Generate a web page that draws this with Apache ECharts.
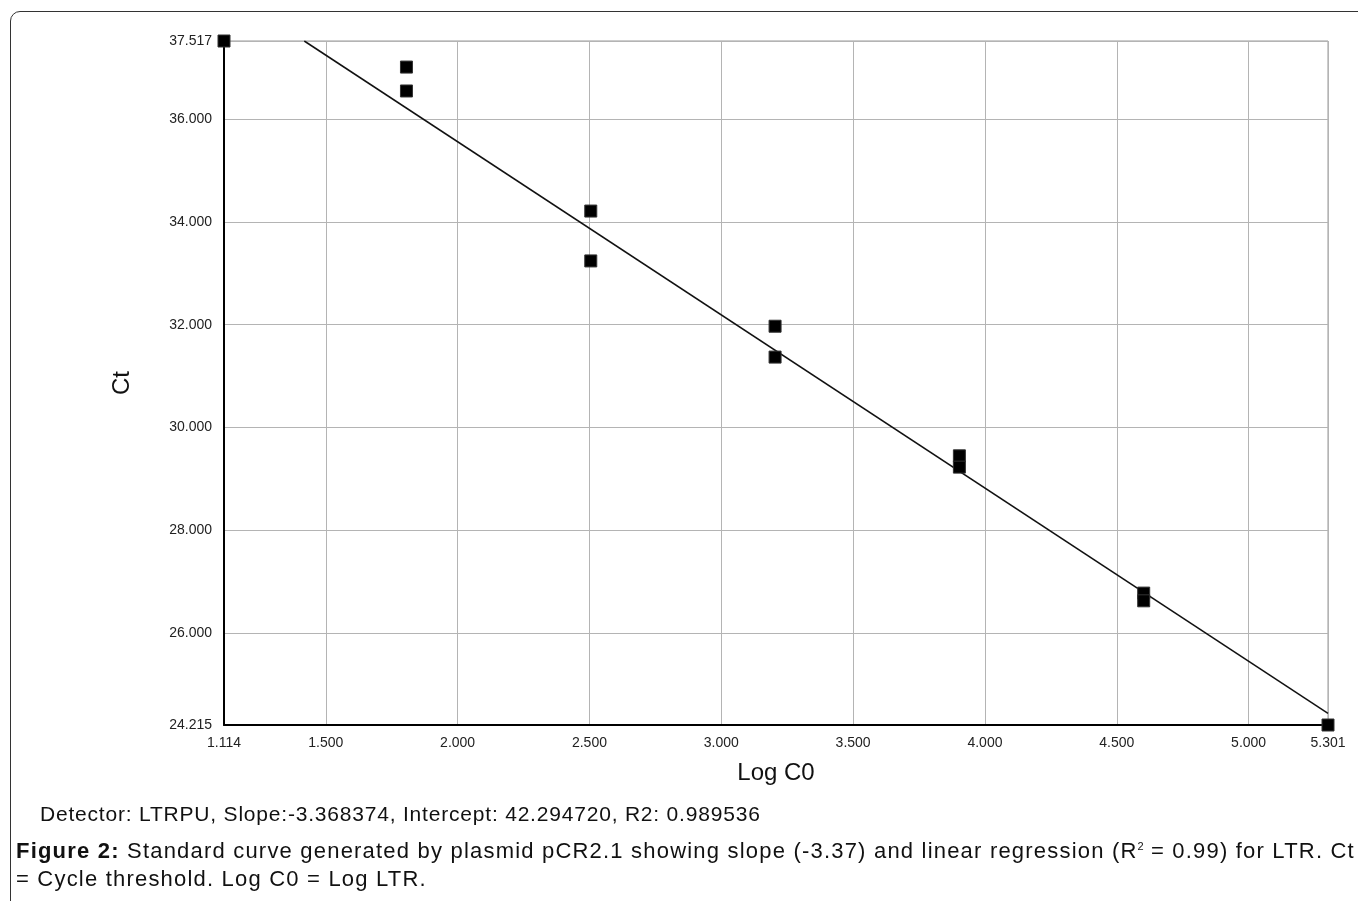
<!DOCTYPE html>
<html>
<head>
<meta charset="utf-8">
<script src="https://cdn.jsdelivr.net/npm/echarts@6/dist/echarts.min.js"></script>
<style>
  html, body { margin: 0; padding: 0; background: #fff; }
  body { width: 1358px; height: 901px; position: relative; overflow: hidden; font-family: "Liberation Sans", Arial, sans-serif; }
  .frame { position: absolute; left: 10px; top: 11px; width: 1400px; height: 950px; border: 1px solid #333; border-radius: 10px; }
  #chart { position: absolute; left: 0; top: 0; width: 1358px; height: 901px; }
  .txt { position: absolute; color: #111; white-space: nowrap; }
  .detector { left: 40px; top: 802px; font-size: 21px; letter-spacing: 0.8px; }
  .caption { left: 16px; top: 837px; font-size: 22px; line-height: 28px; letter-spacing: 1.2px; }
  sup { font-size: 11px; vertical-align: 8px; line-height: 0; letter-spacing: 0; }
</style>
</head>
<body>
<div class="frame"></div>
<div id="chart"></div>
<div class="txt detector">Detector: LTRPU, Slope:-3.368374, Intercept: 42.294720, R2: 0.989536</div>
<div class="txt caption"><b>Figure 2:</b> Standard curve generated by plasmid pCR2.1 showing slope (-3.37) and linear regression (R<sup>2</sup> = 0.99) for LTR. Ct<br>= Cycle threshold. Log C0 = Log LTR.</div>
<script>
// measured standards: Log C0 vs Ct
const logC0 = [1.114, 1.806, 1.806, 2.505, 2.505, 3.204, 3.204, 3.903, 3.903, 4.602, 4.602, 5.301];
const ctValues = [37.517, 37.01, 36.545, 34.21, 33.24, 31.97, 31.37, 29.45, 29.23, 26.78, 26.63, 24.215];

// regression from the detector line
const slope = -3.368374;
const intercept = 42.294720;

const xMin = 1.114, xMax = 5.301;
const yMin = 24.215, yMax = 37.517;

// line clipped to the plot box
const xStart = (yMax - intercept) / slope;
const fitLine = [[xStart, yMax], [xMax, intercept + slope * xMax]];

const chart = echarts.init(document.getElementById('chart'));
const fmt = v => v.toFixed(3);

chart.setOption({
  animation: false,
  textStyle: { fontFamily: '"Liberation Sans", Arial, sans-serif' },
  grid: {
    left: 224, right: 30, top: 41, bottom: 176,
    show: true, borderColor: '#999', borderWidth: 1
  },
  xAxis: {
    type: 'value',
    min: xMin, max: xMax,
    splitNumber: 8,
    name: 'Log C0',
    nameLocation: 'middle',
    nameGap: 36,
    nameTextStyle: { fontSize: 24, color: '#111' },
    axisLine: { lineStyle: { color: '#000', width: 2 } },
    axisTick: { show: false },
    axisLabel: { formatter: fmt, color: '#222', fontSize: 14, margin: 11, showMinLabel: true, showMaxLabel: true },
    splitLine: { lineStyle: { color: '#b4b4b4', width: 1 } }
  },
  yAxis: {
    type: 'value',
    min: yMin, max: yMax,
    splitNumber: 7,
    name: 'Ct',
    nameLocation: 'middle',
    nameGap: 90,
    nameTextStyle: { fontSize: 24, color: '#111' },
    axisLine: { show: true, lineStyle: { color: '#000', width: 2 } },
    axisTick: { show: false },
    axisLabel: { formatter: fmt, color: '#222', fontSize: 14, margin: 12, showMinLabel: true, showMaxLabel: true },
    splitLine: { lineStyle: { color: '#b4b4b4', width: 1 } }
  },
  series: [
    {
      type: 'line',
      data: fitLine,
      symbol: 'none',
      lineStyle: { color: '#111', width: 1.5 },
      z: 3
    },
    {
      type: 'scatter',
      data: logC0.map((x, i) => [x, ctValues[i]]),
      symbol: 'rect',
      symbolSize: 12,
      clip: false,
      itemStyle: { color: '#000', opacity: 1, borderColor: '#333', borderWidth: 1 },
      z: 4
    }
  ]
});
</script>
</body>
</html>
